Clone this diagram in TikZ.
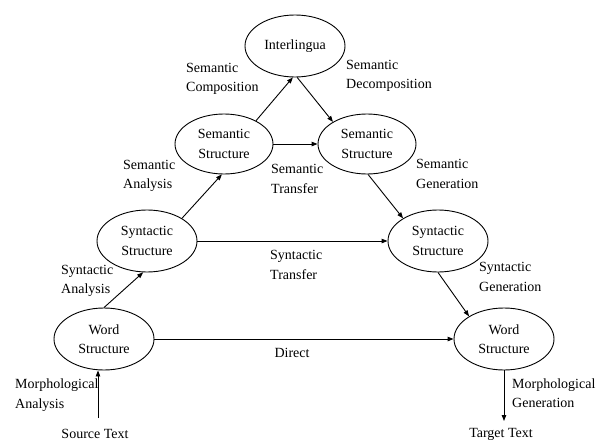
\documentclass[tikz,border=0pt]{standalone}
\usepackage{fontspec}
\setmainfont{Liberation Serif}
\usetikzlibrary{shapes.geometric,arrows.meta}
\begin{document}
\begin{tikzpicture}[x=1pt,y=-1pt,
  every node/.style={font=\fontsize{14}{19.5}\selectfont},
  ell/.style={draw, ellipse, line width=0.9pt, minimum width=100pt, minimum height=62pt, inner sep=0pt, align=center},
  lbl/.style={inner sep=0pt, align=left, anchor=west},
  conn/.style={line width=0.9pt, -{Triangle[length=6pt,width=4.5pt]}}]
\useasboundingbox (0,0) rectangle (606,442);
% ellipses
\node[ell] (inter) at (295,46) {Interlingua};
\node[ell, minimum width=98pt, minimum height=60pt] (semL) at (224,144) {Semantic\\Structure};
\node[ell, minimum width=98pt, minimum height=60pt] (semR) at (367,144) {Semantic\\Structure};
\node[ell] (synL) at (147,241) {Syntactic\\Structure};
\node[ell] (synR) at (438,241) {Syntactic\\Structure};
\node[ell] (wordL) at (104,339) {Word\\Structure};
\node[ell] (wordR) at (504,339) {Word\\Structure};
% labels
\node[lbl] (lsc) at (186,79) {Semantic\\Composition};
\node[lbl] (lsd) at (346,76) {Semantic\\Decomposition};
\node[lbl] (lsa) at (123,176) {Semantic\\Analysis};
\node[lbl] (lst) at (271,179) {Semantic\\Transfer};
\node[lbl] (lsg) at (416,174) {Semantic\\Generation};
\node[lbl] (lya) at (61,281) {Syntactic\\Analysis};
\node[lbl] (lyt) at (270,265) {Syntactic\\Transfer};
\node[lbl] (lyg) at (479,277) {Syntactic\\Generation};
\node[inner sep=0pt] (ldir) at (292,353) {Direct};
\node[lbl] (lma) at (15,395) {Morphological\\Analysis};
\node[lbl] (lmg) at (512,393) {Morphological\\Generation};
\node[inner sep=0pt, anchor=base] (src) at (95,438) {Source Text};
\node[inner sep=0pt, anchor=base] (tgt) at (501,437) {Target Text};
% coordinates for free ends
\coordinate (srcend) at (98,418);
\coordinate (tgtend) at (504,421);
% connectors
\draw[conn] (semL.36) -- (inter.266);
\draw[conn] (inter.274) -- (semR.147);
\draw[conn] (semL.east) -- (semR.west);
\draw[conn] (semR.272) -- (synR.147);
\draw[conn] (synL.33) -- (semL.266);
\draw[conn] (synL.east) -- (synR.west);
\draw[conn] (synR.270) -- (wordR.147);
\draw[conn] (wordL.north) -- (synL.263);
\draw[conn] (wordL.east) -- (wordR.west);
\draw[conn] (srcend) -- (srcend |- wordL.south);
\draw[conn] (wordR.south) -- (tgtend);
\end{tikzpicture}
\end{document}
